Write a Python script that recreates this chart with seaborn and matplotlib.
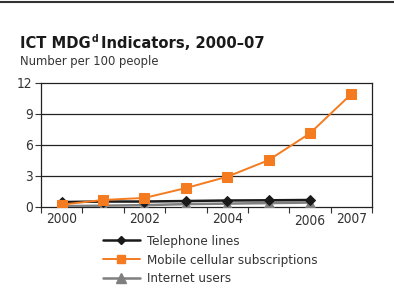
import matplotlib
matplotlib.use("Agg")
import matplotlib.pyplot as plt
import seaborn as sns
import pandas as pd
import numpy as np
from matplotlib.lines import Line2D

years = ["2000", "2001", "2002", "2003", "2004", "2005", "2006", "2007"]
tick_labels = ["2000", "", "2002", "", "2004", "", "2006", "2007"]
telephone = [0.45, 0.5, 0.5, 0.55, 0.6, 0.62, 0.65]
mobile = [0.2, 0.65, 0.85, 1.8, 2.9, 4.5, 7.1, 10.9]
internet = [0.05, 0.1, 0.15, 0.25, 0.3, 0.35, 0.4]
series_names = ["Telephone lines", "Mobile cellular subscriptions", "Internet users"]

sns.set_theme(style="white")
plt.rcParams["font.family"] = ["DejaVu Sans"]
plt.rcParams["font.stretch"] = "condensed"

rows = []
for name, vals in zip(series_names, [telephone, mobile, internet]):
    for i, v in enumerate(vals):
        rows.append({"idx": i, "year": years[i], "value": v, "series": name})
df = pd.DataFrame(rows)

fig = plt.figure(figsize=(3.94, 3.06), dpi=100)
ax = fig.add_axes([41/394, 1-206.7/306, (372-41)/394, (206.7-82.7)/306])

colors = {"Telephone lines": "#1a1a1a", "Mobile cellular subscriptions": "#F47B20", "Internet users": "#7f7f7f"}
markers = {"Telephone lines": "D", "Mobile cellular subscriptions": "s", "Internet users": "^"}
msizes = {"Telephone lines": 5, "Mobile cellular subscriptions": 6.5, "Internet users": 7}
lws = {"Telephone lines": 1.8, "Mobile cellular subscriptions": 1.4, "Internet users": 1.8}
zorders = {"Telephone lines": 4, "Mobile cellular subscriptions": 5, "Internet users": 3}

for name in series_names:
    sub = df[df.series == name]
    sns.lineplot(data=sub, x="idx", y="value", ax=ax, color=colors[name],
                 marker=markers[name], markersize=msizes[name], linewidth=lws[name],
                 markeredgecolor=colors[name], zorder=zorders[name], legend=False)

TF = dict(fontstretch="condensed")
ax.set_xlim(-0.5, 7.5)
ax.set_ylim(0, 12)
ax.set_yticks([0, 3, 6, 9, 12])
ax.set_yticklabels(["0", "3", "6", "9", "12"], fontsize=9.8, color="#333333", **TF)
ax.set_xticks(range(8))
ax.set_xticklabels(tick_labels, fontsize=9.8, color="#333333", **TF)
ax.tick_params(axis="x", which="major", length=0, pad=4)
ax.set_xticks(np.arange(-0.5, 8, 1), minor=True)
ax.tick_params(axis="x", which="minor", length=4, width=0.8, color="#333333", direction="out", bottom=True)
ax.tick_params(axis="y", length=4, width=0.8, color="#333333", direction="out", left=True, pad=2)
labs = ax.get_xticklabels()
labs[6].set_y(-0.012)
for y in [3, 6, 9]:
    ax.axhline(y, color="#222222", linewidth=0.9, zorder=1)
for s in ax.spines.values():
    s.set_color("#222222")
    s.set_linewidth(0.9)
ax.set_xlabel("")
ax.set_ylabel("")

# top rule
fig.add_artist(Line2D([0, 1], [1-1.5/306, 1-1.5/306], color="#333333", linewidth=1.5, transform=fig.transFigure))

# title with superscript
fig.canvas.draw()
r = fig.canvas.get_renderer()
t1 = fig.text(20/394, 1-48.5/306, "ICT MDG", fontsize=11.8, fontweight="bold", color="#1a1a1a", va="baseline", **TF)
bb = t1.get_window_extent(r)
t2 = fig.text(bb.x1/394 + 0.002, 1-41.5/306, "d", fontsize=7.5, fontweight="bold", color="#1a1a1a", va="baseline", **TF)
bb2 = t2.get_window_extent(r)
fig.text(bb2.x1/394 + 0.007, 1-48.5/306, "Indicators, 2000–07", fontsize=11.8, fontweight="bold", color="#1a1a1a", va="baseline", **TF)
fig.text(20/394, 1-65.5/306, "Number per 100 people", fontsize=9.3, color="#333333", va="baseline", **TF)

handles = [Line2D([], [], color=colors[n], marker=markers[n], markersize=msizes[n] - 0.5,
                  linewidth=lws[n]) for n in series_names]
leg = fig.legend(handles, series_names, loc="upper left", bbox_to_anchor=(96/394, 1-228/306),
                 frameon=False, handlelength=2.8, handletextpad=0.6,
                 labelspacing=0.45, borderpad=0, labelcolor="#333333",
                 prop=dict(size=9.5, stretch="condensed"))

fig.savefig("out.png", dpi=100)
